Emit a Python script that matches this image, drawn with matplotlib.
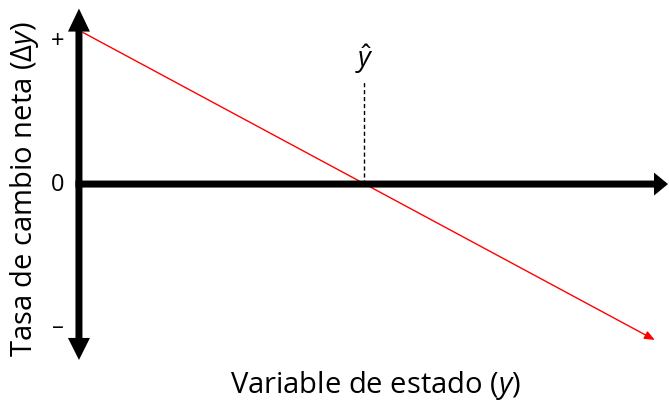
import matplotlib
matplotlib.use("Agg")
import matplotlib.pyplot as plt

plt.rcParams['font.family'] = ['Open Sans', 'DejaVu Sans']
plt.rcParams['mathtext.fontset'] = 'custom'
plt.rcParams['mathtext.it'] = 'Open Sans:italic'
plt.rcParams['mathtext.rm'] = 'Open Sans'

# data
line_y = [0.014, 2.02]          # state variable
line_dy = [1.06, -1.09]         # net rate of change
y_hat = 1.0
tick_vals = [1.0, 0.0, -1.0]
tick_labels = ['+', '0', '\u2013']
xlabel = 'Variable de estado ($y$)'
ylabel = 'Tasa de cambio neta ($\\Delta y$)'

fig = plt.figure(figsize=(6.69, 4.02), dpi=100)
ax = fig.add_axes([0, 0, 1, 1])
ax.set_xlim(-0.277, 2.070)
ax.set_ylim(-1.517, 1.294)
ax.axis('off')

PX = 1 / 285.0   # x data per pixel
PY = 1 / 143.0   # y data per pixel

# red line with arrow
ax.annotate('', xy=(line_y[1], line_dy[1]), xytext=(line_y[0], line_dy[0]),
            arrowprops=dict(arrowstyle='-|>,head_length=0.6,head_width=0.25',
                            color='red', lw=1.0, mutation_scale=10,
                            shrinkA=0, shrinkB=0))

# horizontal axis
ax.arrow(0 - 3.5 * PX, 0, 2.07 + 3.5 * PX - 1 * PX, 0, width=7 * PY, head_width=23 * PY,
         head_length=14 * PX, length_includes_head=True, color='black', lw=0, zorder=3)
# vertical axis (double headed)
ax.arrow(0, 0, 0, 1.227, width=7 * PX, head_width=22 * PX,
         head_length=23 * PY, length_includes_head=True, color='black', lw=0, zorder=3)
ax.arrow(0, 0, 0, -1.230, width=7 * PX, head_width=22 * PX,
         head_length=22 * PY, length_includes_head=True, color='black', lw=0, zorder=3)

# dashed line at y_hat
ax.plot([y_hat, y_hat], [0, 0.715], color='black', lw=1, ls=(0, (3, 2)))
ax.text(y_hat, 0.88, r'$\hat{y}$', ha='center', va='center', fontsize=20)

for v, t in zip(tick_vals, tick_labels):
    ax.text(-0.074, v, t, ha='center', va='center', fontsize=17)

ax.text(1.04, -1.40, xlabel, ha='center', va='center', fontsize=21)
ax.text(-0.19, -0.03, ylabel, ha='center', va='center', fontsize=21, rotation=90)

fig.savefig('out.png', dpi=100)
